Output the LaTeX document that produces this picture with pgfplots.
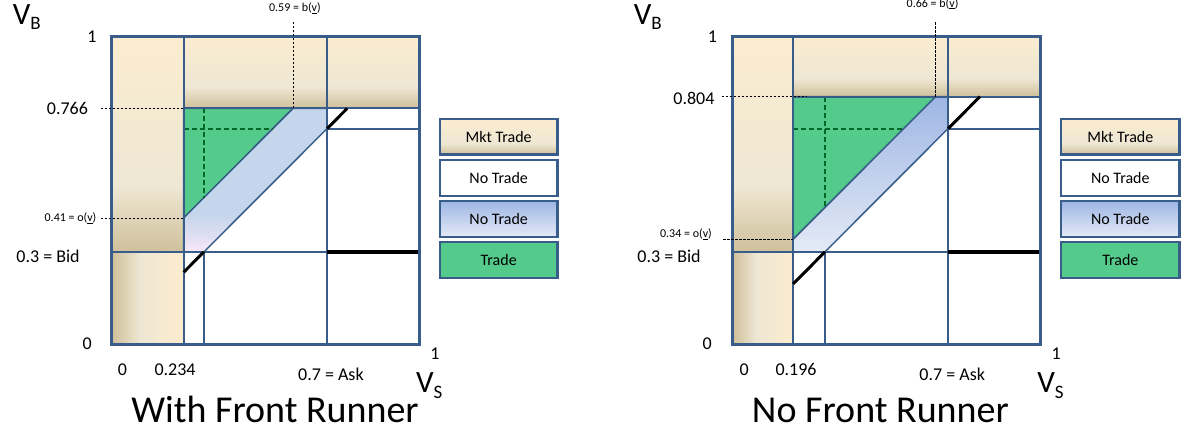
\documentclass[border=0pt]{standalone}
\usepackage{pgfplots}
\pgfplotsset{compat=1.18}
\usepackage{fontspec}
\setmainfont{Carlito}
\definecolor{tanTop}{RGB}{252,236,207}
\definecolor{tanMid}{RGB}{238,231,211}
\definecolor{tanMidB}{RGB}{244,234,210}
\definecolor{tanBot}{RGB}{208,192,155}
\definecolor{edge}{RGB}{56,93,138}
\definecolor{trade}{RGB}{84,203,139}
\definecolor{bandA}{RGB}{197,214,236}
\definecolor{bandM}{RGB}{222,222,242}
\definecolor{lav}{RGB}{248,232,248}
\definecolor{blueTop}{RGB}{158,182,228}
\definecolor{blueBot}{RGB}{228,234,246}
\definecolor{dgreen}{RGB}{0,105,40}
\pgfdeclareverticalshading{tanv}{100bp}{color(0bp)=(tanBot); color(25bp)=(tanBot); color(40bp)=(tanMid); color(58bp)=(tanMidB); color(75bp)=(tanTop); color(100bp)=(tanTop)}
\pgfdeclarehorizontalshading{tanh}{100bp}{color(0bp)=(tanBot); color(25bp)=(tanBot); color(45bp)=(tanMid); color(75bp)=(tanTop); color(100bp)=(tanTop)}
\pgfdeclareverticalshading{bandL}{100bp}{color(0bp)=(lav); color(25bp)=(lav); color(31bp)=(bandM); color(38bp)=(bandA); color(75bp)=(bandA); color(100bp)=(bandA)}
\pgfdeclareverticalshading{bandR}{100bp}{color(0bp)=(blueBot); color(25bp)=(blueBot); color(75bp)=(blueTop); color(100bp)=(blueTop)}
\newcommand\fs[1]{\fontsize{#1bp}{#1bp}\selectfont}
\pgfplotsset{
  panel/.style={anchor=south west, scale only axis, width=307.5bp, height=308bp,
    xmin=0, xmax=1, ymin=0, ymax=1, hide axis, clip=false},
  grid line/.style={draw=edge, line width=2bp},
  guide/.style={black, line width=1bp, dash pattern=on 2.5bp off 1.5bp},
  gdash/.style={dgreen, line width=1.7bp, dash pattern=on 5bp off 3bp},
  lbox/.style={draw=edge, line width=2.5bp},
}
\begin{document}
\begin{tikzpicture}
\useasboundingbox (0,0) rectangle (1198bp,435bp);
% ================= LEFT: With Front Runner =================
\begin{axis}[panel, at={(111.7bp,90.7bp)}]
\addplot[draw=edge, line width=2bp, shade, shading=tanv] coordinates {(0,0.3) (0.234,0.3) (0.234,1) (0,1)} -- cycle;
\addplot[draw=edge, line width=2bp, shade, shading=tanh] coordinates {(0,0) (0.234,0) (0.234,0.3) (0,0.3)} -- cycle;
\addplot[draw=edge, line width=2bp, shade, shading=tanv] coordinates {(0.234,0.766) (0.7,0.766) (0.7,1) (0.234,1)} -- cycle;
\addplot[draw=edge, line width=2bp, shade, shading=tanv] coordinates {(0.7,0.766) (1,0.766) (1,1) (0.7,1)} -- cycle;
\addplot[fill=trade, draw=edge, line width=1.5bp] coordinates {(0.234,0.41) (0.59,0.766) (0.234,0.766)} -- cycle;
\addplot[draw=edge, line width=1.5bp, shade, shading=bandL] coordinates {(0.234,0.41) (0.59,0.766) (0.7,0.766) (0.7,0.7) (0.3,0.3) (0.234,0.3)} -- cycle;
\addplot[gdash] coordinates {(0.3,0.766) (0.3,0.476)};
\addplot[gdash] coordinates {(0.234,0.7) (0.524,0.7)};
\addplot[grid line] coordinates {(0.234,0) (0.234,1)};
\addplot[grid line] coordinates {(0.7,0) (0.7,1)};
\addplot[grid line] coordinates {(0.3,0) (0.3,0.3)};
\addplot[grid line] coordinates {(0,0.3) (1,0.3)};
\addplot[grid line] coordinates {(0.234,0.766) (1,0.766)};
\addplot[grid line] coordinates {(0.7,0.7) (1,0.7)};
\addplot[black, line width=3bp] coordinates {(0.234,0.234) (0.3,0.3)};
\addplot[black, line width=3bp] coordinates {(0.7,0.7) (0.766,0.766)};
\addplot[black, line width=3.5bp] coordinates {(0.7,0.3) (1,0.3)};
\addplot[draw=edge, line width=3bp] coordinates {(0,0) (1,0) (1,1) (0,1)} -- cycle;
\addplot[guide] coordinates {(-0.035,0.766) (0.234,0.766)};
\addplot[guide] coordinates {(-0.035,0.41) (0.234,0.41)};
\addplot[guide] coordinates {(0.59,0.766) (0.59,1.047)};
% legend
\addplot[lbox, shade, shading=tanv] coordinates {(1.067,0.617) (1.450,0.617) (1.450,0.7315) (1.067,0.7315)} -- cycle;
\addplot[lbox, fill=white] coordinates {(1.067,0.4815) (1.450,0.4815) (1.450,0.598) (1.067,0.598)} -- cycle;
\addplot[lbox, shade, shading=bandR] coordinates {(1.067,0.3484) (1.450,0.3484) (1.450,0.4653) (1.067,0.4653)} -- cycle;
\addplot[lbox, fill=trade] coordinates {(1.067,0.2153) (1.450,0.2153) (1.450,0.3321) (1.067,0.3321)} -- cycle;
\node[font=\fs{16}] at (axis cs:1.2585,0.6743) {Mkt Trade};
\node[font=\fs{16}] at (axis cs:1.2585,0.5398) {No Trade};
\node[font=\fs{16}] at (axis cs:1.2585,0.4069) {No Trade};
\node[font=\fs{16}] at (axis cs:1.2585,0.2737) {Trade};
% labels
\node[font=\fs{18}] at (axis cs:-0.064,1.0) {1};
\node[font=\fs{18}] at (axis cs:-0.144,0.766) {0.766};
\node[font=\fs{12}] at (axis cs:-0.134,0.41) {0.41 = o(\underline{v})};
\node[font=\fs{18}] at (axis cs:-0.207,0.285) {0.3 = Bid};
\node[font=\fs{18}] at (axis cs:-0.080,0.001) {0};
\node[font=\fs{18}] at (axis cs:0.035,-0.082) {0};
\node[font=\fs{18}] at (axis cs:0.206,-0.082) {0.234};
\node[font=\fs{18}] at (axis cs:0.713,-0.098) {0.7 = Ask};
\node[font=\fs{18}] at (axis cs:1.051,-0.031) {1};
\node[font=\fs{12}] at (axis cs:0.596,1.092) {0.59 = b(\underline{v})};
\node[anchor=base west, inner sep=0pt] at (axis cs:-0.322,1.037) {\fs{31}V\raisebox{-5bp}{\fs{19}B}};
\node[anchor=base west, inner sep=0pt] at (axis cs:0.989,-0.158) {\fs{31}V\raisebox{-6bp}{\fs{19}S}};
\node[anchor=base west, inner sep=0pt, font=\fs{38}] at (axis cs:0.063,-0.254) {With Front Runner};
\end{axis}
% ================= RIGHT: No Front Runner =================
\begin{axis}[panel, at={(732.7bp,90.7bp)}]
\addplot[draw=edge, line width=2bp, shade, shading=tanv] coordinates {(0,0.3) (0.196,0.3) (0.196,1) (0,1)} -- cycle;
\addplot[draw=edge, line width=2bp, shade, shading=tanh] coordinates {(0,0) (0.196,0) (0.196,0.3) (0,0.3)} -- cycle;
\addplot[draw=edge, line width=2bp, shade, shading=tanv] coordinates {(0.196,0.804) (0.7,0.804) (0.7,1) (0.196,1)} -- cycle;
\addplot[draw=edge, line width=2bp, shade, shading=tanv] coordinates {(0.7,0.804) (1,0.804) (1,1) (0.7,1)} -- cycle;
\addplot[fill=trade, draw=edge, line width=1.5bp] coordinates {(0.196,0.34) (0.66,0.804) (0.196,0.804)} -- cycle;
\addplot[draw=edge, line width=1.5bp, shade, shading=bandR] coordinates {(0.196,0.34) (0.66,0.804) (0.7,0.804) (0.7,0.7) (0.3,0.3) (0.196,0.3)} -- cycle;
\addplot[gdash] coordinates {(0.3,0.804) (0.3,0.444)};
\addplot[gdash] coordinates {(0.196,0.7) (0.556,0.7)};
\addplot[grid line] coordinates {(0.196,0) (0.196,1)};
\addplot[grid line] coordinates {(0.7,0) (0.7,1)};
\addplot[grid line] coordinates {(0.3,0) (0.3,0.3)};
\addplot[grid line] coordinates {(0,0.3) (1,0.3)};
\addplot[grid line] coordinates {(0.196,0.804) (1,0.804)};
\addplot[grid line] coordinates {(0.7,0.7) (1,0.7)};
\addplot[black, line width=3bp] coordinates {(0.196,0.196) (0.3,0.3)};
\addplot[black, line width=3bp] coordinates {(0.7,0.7) (0.804,0.804)};
\addplot[black, line width=3.5bp] coordinates {(0.7,0.3) (1,0.3)};
\addplot[draw=edge, line width=3bp] coordinates {(0,0) (1,0) (1,1) (0,1)} -- cycle;
\addplot[guide] coordinates {(-0.036,0.804) (0.24,0.804)};
\addplot[guide] coordinates {(-0.031,0.34) (0.196,0.34)};
\addplot[guide] coordinates {(0.66,0.804) (0.66,1.047)};
% legend
\addplot[lbox, shade, shading=tanv] coordinates {(1.068,0.617) (1.453,0.617) (1.453,0.7315) (1.068,0.7315)} -- cycle;
\addplot[lbox, fill=white] coordinates {(1.068,0.4815) (1.453,0.4815) (1.453,0.598) (1.068,0.598)} -- cycle;
\addplot[lbox, shade, shading=bandR] coordinates {(1.068,0.3484) (1.453,0.3484) (1.453,0.4653) (1.068,0.4653)} -- cycle;
\addplot[lbox, fill=trade] coordinates {(1.068,0.2153) (1.453,0.2153) (1.453,0.3321) (1.068,0.3321)} -- cycle;
\node[font=\fs{16}] at (axis cs:1.2605,0.6743) {Mkt Trade};
\node[font=\fs{16}] at (axis cs:1.2605,0.5398) {No Trade};
\node[font=\fs{16}] at (axis cs:1.2605,0.4069) {No Trade};
\node[font=\fs{16}] at (axis cs:1.2605,0.2737) {Trade};
% labels
\node[font=\fs{18}] at (axis cs:-0.066,1.0) {1};
\node[font=\fs{18}] at (axis cs:-0.126,0.799) {0.804};
\node[font=\fs{12}] at (axis cs:-0.152,0.357) {0.34 = o(\underline{v})};
\node[font=\fs{18}] at (axis cs:-0.207,0.285) {0.3 = Bid};
\node[font=\fs{18}] at (axis cs:-0.083,0.003) {0};
\node[font=\fs{18}] at (axis cs:0.037,-0.083) {0};
\node[font=\fs{18}] at (axis cs:0.206,-0.083) {0.196};
\node[font=\fs{18}] at (axis cs:0.714,-0.098) {0.7 = Ask};
\node[font=\fs{18}] at (axis cs:1.052,-0.031) {1};
\node[font=\fs{12}] at (axis cs:0.650,1.106) {0.66 = b(\underline{v})};
\node[anchor=base west, inner sep=0pt] at (axis cs:-0.322,1.037) {\fs{31}V\raisebox{-5bp}{\fs{19}B}};
\node[anchor=base west, inner sep=0pt] at (axis cs:0.990,-0.158) {\fs{31}V\raisebox{-6bp}{\fs{19}S}};
\node[anchor=base west, inner sep=0pt, font=\fs{38}] at (axis cs:0.062,-0.2545) {No Front Runner};
\end{axis}
\end{tikzpicture}
\end{document}
